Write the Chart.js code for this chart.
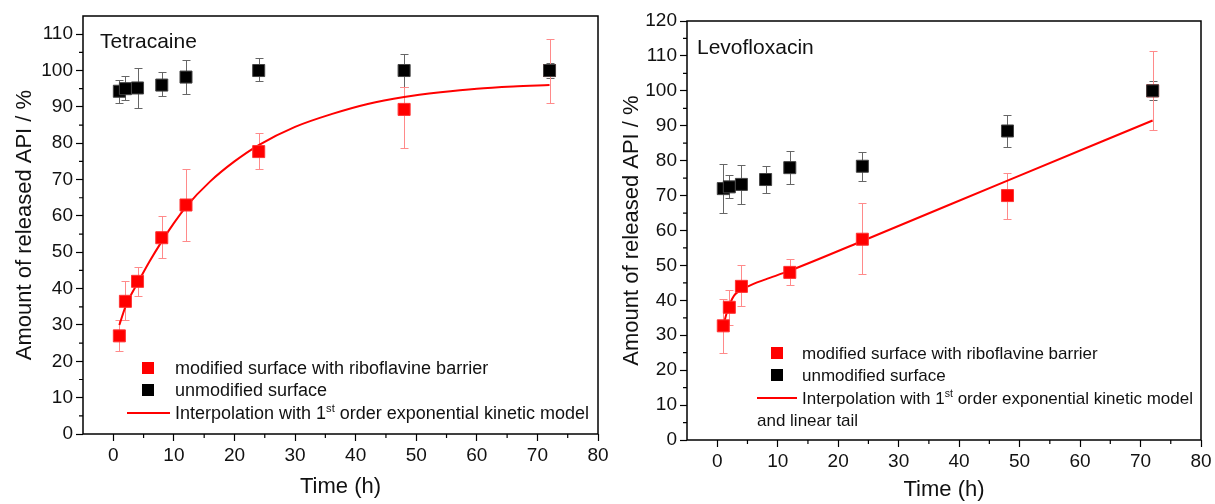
<!DOCTYPE html>
<html>
<head>
<meta charset="utf-8">
<script src="https://cdn.jsdelivr.net/npm/chart.js@4.4.1/dist/chart.umd.min.js"></script>
<style>
  body { margin: 0; background: #fff; }
  #wrap { position: relative; width: 1215px; height: 504px; overflow: hidden; font-family: "Liberation Sans", Arial, sans-serif; color: #111; }
  canvas { position: absolute; top: 0; }
  .lbl { position: absolute; white-space: nowrap; transform: translateY(-50%); line-height: 1; }
  .leg { font-size: 18px; }
  .leg2 { font-size: 17px; }
  .sq { position: absolute; width: 12px; height: 12px; transform: translate(-50%, -50%); }
  .ln { position: absolute; height: 2px; background: #ff0000; transform: translateY(-50%); }
  sup { font-size: 0.62em; vertical-align: 0.6em; line-height: 0; }
</style>
</head>
<body>
<div id="wrap">
  <canvas id="left" width="612" height="504" style="left:0"></canvas>
  <canvas id="right" width="603" height="504" style="left:612px"></canvas>

  <div class="lbl" style="left:100px;top:40px;font-size:21px">Tetracaine</div>
  <div class="sq" style="left:148px;top:368px;background:#ff0000"></div>
  <div class="lbl leg" style="left:175px;top:368px">modified surface with riboflavine barrier</div>
  <div class="sq" style="left:148px;top:390px;background:#000"></div>
  <div class="lbl leg" style="left:175px;top:390px">unmodified surface</div>
  <div class="ln" style="left:127px;top:413px;width:43px"></div>
  <div class="lbl leg" style="left:175px;top:413px">Interpolation with 1<sup>st</sup> order exponential kinetic model</div>

  <div class="lbl" style="left:697px;top:46px;font-size:21px">Levofloxacin</div>
  <div class="sq" style="left:777px;top:353px;background:#ff0000"></div>
  <div class="lbl leg2" style="left:802px;top:353px">modified surface with riboflavine barrier</div>
  <div class="sq" style="left:777px;top:375px;background:#000"></div>
  <div class="lbl leg2" style="left:802px;top:375px">unmodified surface</div>
  <div class="ln" style="left:757px;top:398px;width:40px"></div>
  <div class="lbl leg2" style="left:802px;top:398px">Interpolation with 1<sup>st</sup> order exponential kinetic model</div>
  <div class="lbl leg2" style="left:757px;top:420px">and linear tail</div>
</div>
<script>
// ---- Tetracaine ----
const tetraTime = [1, 2, 4, 8, 12, 24, 48, 72];
const tetraMod = [27, 36.5, 42, 54, 63, 77.7, 89.3, 100];
const tetraModLow = [22.7, 31.5, 38, 48.5, 53.2, 73, 78.7, 91.2];
const tetraModHigh = [31.5, 42, 46, 60, 73, 82.7, 95.5, 108.8];
const tetraUnmod = [94.3, 95, 95.2, 96, 98.2, 100, 100, 100];
const tetraUnmodLow = [91.2, 92, 89.7, 93, 93.6, 97, 95.6, 98];
const tetraUnmodHigh = [97.5, 98.5, 100.8, 99.5, 103, 103.5, 104.5, 102];
const tetraFitTime = [1, 2, 3, 4, 6, 8, 10, 12, 16, 20, 24, 30, 36, 42, 48, 54, 60, 66, 72];
const tetraFit = [30, 35, 38.5, 41.5, 47.5, 53, 58, 62.5, 69.5, 75, 79.5, 84.5, 88, 90.8, 92.7, 94, 95, 95.6, 96];

// ---- Levofloxacin ----
const levoModTime = [1, 2, 4, 12, 24, 48, 72];
const levoMod = [32.7, 38, 44, 48, 57.5, 70, 100];
const levoModLow = [25, 33, 38.3, 44.5, 47.5, 63.3, 88.7];
const levoModHigh = [40.5, 43, 50, 51.7, 67.8, 76.5, 111.3];
const levoUnmodTime = [1, 2, 4, 8, 12, 24, 48, 72];
const levoUnmod = [72, 72.5, 73.2, 74.6, 78, 78.4, 88.5, 100];
const levoUnmodLow = [65, 69.3, 67.6, 70.6, 73.4, 74.1, 84, 97.3];
const levoUnmodHigh = [79, 75.8, 78.8, 78.6, 82.7, 82.5, 93, 102.8];
const levoFitTime = [1, 1.5, 2, 2.5, 3, 4, 6, 8, 12, 24, 48, 72];
const levoFit = [32.5, 36, 38.5, 40.5, 41.8, 43, 44.7, 46, 48.5, 57, 74.3, 91.5];

// axis ticks
const xTicks = [0, 10, 20, 30, 40, 50, 60, 70, 80];
const xMinor = [5, 15, 25, 35, 45, 55, 65, 75];
const tetraYTicks = [0, 10, 20, 30, 40, 50, 60, 70, 80, 90, 100, 110];
const tetraYMinor = [5, 15, 25, 35, 45, 55, 65, 75, 85, 95, 105];
const levoYTicks = [0, 10, 20, 30, 40, 50, 60, 70, 80, 90, 100, 110, 120];
const levoYMinor = [5, 15, 25, 35, 45, 55, 65, 75, 85, 95, 105, 115];

Chart.defaults.font.family = "'Liberation Sans', Arial, sans-serif";
Chart.defaults.color = '#111';

const pts = (xs, ys) => xs.map((x, i) => ({x: x, y: ys[i]}));

// error bars, drawn under the markers
const errorBars = {
  id: 'errorBars',
  beforeDatasetsDraw(chart) {
    const {ctx, scales: {x, y}} = chart;
    chart.data.datasets.forEach(ds => {
      if (!ds.errLow) return;
      ctx.save();
      ctx.strokeStyle = ds.errColor;
      ctx.lineWidth = 1;
      ds.data.forEach((p, j) => {
        const px = Math.round(x.getPixelForValue(p.x)) + 0.5;
        const lo = Math.round(y.getPixelForValue(ds.errLow[j])) + 0.5;
        const hi = Math.round(y.getPixelForValue(ds.errHigh[j])) + 0.5;
        ctx.beginPath();
        ctx.moveTo(px, lo); ctx.lineTo(px, hi);
        ctx.moveTo(px - 4, lo); ctx.lineTo(px + 4, lo);
        ctx.moveTo(px - 4, hi); ctx.lineTo(px + 4, hi);
        ctx.stroke();
      });
      ctx.restore();
    });
  }
};

// box frame + minor ticks
const frame = {
  id: 'frame',
  afterDraw(chart, args, opts) {
    const {ctx, chartArea: a, scales: {x, y}} = chart;
    ctx.save();
    ctx.strokeStyle = '#000';
    ctx.lineWidth = 1.5;
    ctx.strokeRect(a.left, a.top, a.right - a.left, a.bottom - a.top);
    ctx.lineWidth = 1.2;
    ctx.beginPath();
    opts.yMinor.forEach(v => {
      const py = y.getPixelForValue(v);
      ctx.moveTo(a.left - 4, py); ctx.lineTo(a.left, py);
    });
    opts.xMinor.forEach(v => {
      const px = x.getPixelForValue(v);
      ctx.moveTo(px, a.bottom); ctx.lineTo(px, a.bottom + 4);
    });
    ctx.stroke();
    ctx.restore();
  }
};

function makeChart(id, o) {
  new Chart(document.getElementById(id), {
    type: 'scatter',
    data: {
      datasets: [
        {
          label: 'unmodified surface',
          data: pts(o.unmodTime, o.unmod),
          errLow: o.unmodLow, errHigh: o.unmodHigh, errColor: '#666',
          pointStyle: 'rect', pointRadius: 8.5, backgroundColor: '#000', borderColor: '#444', borderWidth: 1
        },
        {
          label: 'modified surface with riboflavine barrier',
          data: pts(o.modTime, o.mod),
          errLow: o.modLow, errHigh: o.modHigh, errColor: '#ff8a8a',
          pointStyle: 'rect', pointRadius: 8.5, backgroundColor: '#ff0000', borderColor: '#f33', borderWidth: 1
        },
        {
          label: 'Interpolation',
          type: 'line',
          data: pts(o.fitTime, o.fit),
          borderColor: '#ff0000', borderWidth: 2, pointRadius: 0,
          cubicInterpolationMode: 'monotone', fill: false
        }
      ]
    },
    options: {
      responsive: false,
      animation: false,
      layout: { padding: o.pad },
      plugins: {
        legend: { display: false },
        tooltip: { enabled: false },
        frame: { xMinor: xMinor, yMinor: o.yMinor }
      },
      scales: {
        x: {
          type: 'linear', min: -5, max: 80,
          afterBuildTicks: s => { s.ticks = xTicks.map(v => ({value: v})); },
          afterFit: s => { s.height = o.xHeight; },
          border: { display: false },
          grid: { drawOnChartArea: false, tickLength: 7, tickColor: '#000', tickWidth: 1.2 },
          ticks: { font: { size: 19 }, color: '#111', padding: 3, maxRotation: 0, autoSkip: false },
          title: { display: true, text: 'Time (h)', font: { size: 22 }, color: '#111', padding: { top: 0, bottom: o.xTitlePad } }
        },
        y: {
          type: 'linear', min: 0, max: o.yMax,
          afterBuildTicks: s => { s.ticks = o.yTicks.map(v => ({value: v})); },
          afterFit: s => { s.width = o.yWidth; },
          border: { display: false },
          grid: { drawOnChartArea: false, tickLength: 7, tickColor: '#000', tickWidth: 1.2 },
          ticks: { font: { size: 19 }, color: '#111', padding: 3, autoSkip: false },
          title: { display: true, text: 'Amount of released API / %', font: { size: 22 }, color: '#111', padding: { top: o.yTitlePad, bottom: 0 } }
        }
      }
    },
    plugins: [errorBars, frame]
  });
}

makeChart('left', {
  modTime: tetraTime, mod: tetraMod, modLow: tetraModLow, modHigh: tetraModHigh,
  unmodTime: tetraTime, unmod: tetraUnmod, unmodLow: tetraUnmodLow, unmodHigh: tetraUnmodHigh,
  fitTime: tetraFitTime, fit: tetraFit,
  yMax: 115, yTicks: tetraYTicks, yMinor: tetraYMinor,
  pad: { left: 0, right: 14, top: 16, bottom: 0 },
  yWidth: 83, xHeight: 70, xTitlePad: 4, yTitlePad: 12
});

makeChart('right', {
  modTime: levoModTime, mod: levoMod, modLow: levoModLow, modHigh: levoModHigh,
  unmodTime: levoUnmodTime, unmod: levoUnmod, unmodLow: levoUnmodLow, unmodHigh: levoUnmodHigh,
  fitTime: levoFitTime, fit: levoFit,
  yMax: 120, yTicks: levoYTicks, yMinor: levoYMinor,
  pad: { left: 0, right: 14, top: 21, bottom: 0 },
  yWidth: 75, xHeight: 64, xTitlePad: 1, yTitlePad: 7
});
</script>
</body>
</html>
